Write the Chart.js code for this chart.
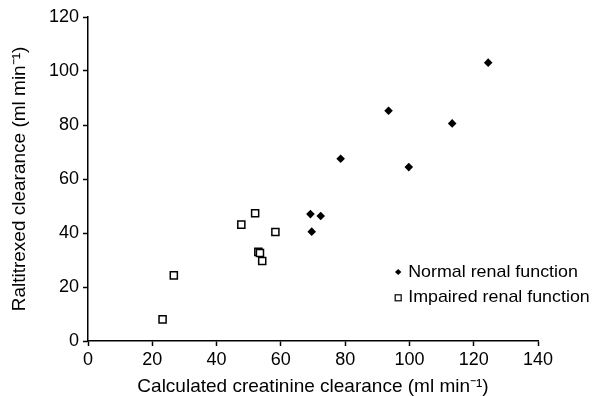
<!DOCTYPE html>
<html>
<head>
<meta charset="utf-8">
<script src="https://cdn.jsdelivr.net/npm/chart.js@4.4.0/dist/chart.umd.min.js"></script>
<style>
  body { margin: 0; background: #fff; }
  canvas { display: block; }
</style>
</head>
<body>
<canvas id="myChart" width="602" height="396"></canvas>
<script>
// creatinine clearance (x) vs raltitrexed clearance (y)
const normalX = [124.5, 93.5, 113.3, 78.6, 99.8, 69.2, 72.4, 69.6];
const normalY = [103.1, 85.3, 80.6, 67.5, 64.4, 47.0, 46.3, 40.5];
const impairedX = [23.2, 26.7, 47.7, 52.0, 58.3, 53.0, 53.5, 54.2];
const impairedY = [8.0, 24.3, 43.1, 47.3, 40.4, 33.0, 32.6, 29.6];
const xTicks = [0, 20, 40, 60, 80, 100, 120, 140];
const yTicks = [0, 20, 40, 60, 80, 100, 120];
const seriesLabels = ['Normal renal function', 'Impaired renal function'];

const FONT = "'Liberation Sans', Arial, Helvetica, sans-serif";

const toPoints = (xs, ys) => xs.map((x, i) => ({ x: x, y: ys[i] }));

// legend sits inside the plot, lower right
const insideLegend = {
    id: 'insideLegend',
    afterDraw(chart) {
        const c = chart.ctx;
        const x0 = chart.scales.x.getPixelForValue(96.5);
        const rows = [chart.scales.y.getPixelForValue(25.6), chart.scales.y.getPixelForValue(16)];
        c.save();
        c.fillStyle = '#000';
        c.strokeStyle = '#000';
        c.font = '17px ' + FONT;
        c.textBaseline = 'middle';
        chart.data.datasets.forEach((ds, i) => {
            const y = rows[i];
            if (i === 0) {
                c.beginPath();
                c.moveTo(x0, y - 3);
                c.lineTo(x0 + 3.2, y);
                c.lineTo(x0, y + 3);
                c.lineTo(x0 - 3.2, y);
                c.closePath();
                c.fill();
            } else {
                c.lineWidth = 1.2;
                c.strokeRect(x0 - 3, y - 3, 6, 6);
            }
            c.save();
            c.translate(x0 + 10, y);
            c.scale(1.05, 1);
            c.fillText(ds.label, 0, 0);
            c.restore();
        });
        c.restore();
    }
};

const ctx = document.getElementById('myChart').getContext('2d');
const myChart = new Chart(ctx, {
    type: 'scatter',
    data: {
        datasets: [{
            label: seriesLabels[0],
            data: toPoints(normalX, normalY),
            pointStyle: 'rectRot',
            pointRadius: 4.3,
            backgroundColor: '#000',
            borderColor: '#000',
            borderWidth: 0
        }, {
            label: seriesLabels[1],
            data: toPoints(impairedX, impairedY),
            pointStyle: 'rect',
            pointRadius: 5,
            backgroundColor: '#fff',
            borderColor: '#000',
            borderWidth: 1.5
        }]
    },
    options: {
        responsive: false,
        animation: false,
        layout: {
            padding: { top: 17, right: 64, left: 0, bottom: 0 }
        },
        plugins: {
            legend: { display: false },
            tooltip: { enabled: false }
        },
        scales: {
            x: {
                type: 'linear',
                min: 0,
                max: 140,
                afterFit: scale => { scale.height = 55; },
                afterBuildTicks: scale => { scale.ticks = xTicks.map(v => ({ value: v })); },
                border: { display: true, color: '#000', width: 1.5 },
                grid: { drawOnChartArea: false, drawTicks: true, tickLength: 5, color: '#000', tickWidth: 1.5 },
                ticks: { color: '#000', padding: 3, font: { family: FONT, size: 18 } },
                title: {
                    display: true,
                    text: 'Calculated creatinine clearance (ml min⁻¹)',
                    color: '#000',
                    padding: 0,
                    font: { family: FONT, size: 19, lineHeight: 1 }
                }
            },
            y: {
                type: 'linear',
                min: 0,
                max: 120,
                afterFit: scale => { scale.width = 88; },
                afterBuildTicks: scale => { scale.ticks = yTicks.map(v => ({ value: v })); },
                border: { display: true, color: '#000', width: 1.5 },
                grid: { drawOnChartArea: false, drawTicks: true, tickLength: 5, color: '#000', tickWidth: 1.5 },
                ticks: { color: '#000', padding: 4, font: { family: FONT, size: 18 } },
                title: {
                    display: true,
                    text: 'Raltitrexed clearance (ml min⁻¹)',
                    color: '#000',
                    padding: { top: 10, bottom: 0 },
                    font: { family: FONT, size: 19, lineHeight: 1 }
                }
            }
        }
    },
    plugins: [insideLegend]
});
</script>
</body>
</html>
